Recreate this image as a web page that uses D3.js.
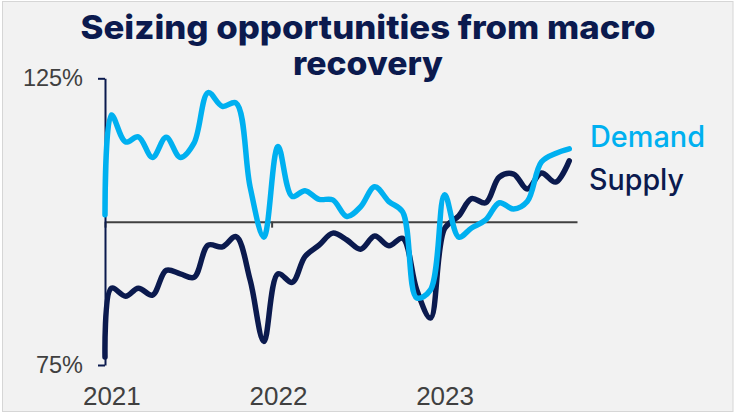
<!DOCTYPE html>
<html>
<head>
<meta charset="utf-8">
<script src="https://cdn.jsdelivr.net/npm/d3@7"></script>
<style>
  html, body { margin: 0; padding: 0; background: #ffffff; }
  svg { display: block; }
</style>
</head>
<body>
<svg id="chart" width="735" height="415"></svg>
<script>
// Observation dates: opening point, then mid-month readings Jan 2021 – Oct 2023
const dates = [
  "2021-01-01",
  "2021-01-15","2021-02-15","2021-03-15","2021-04-15","2021-05-15","2021-06-15",
  "2021-07-15","2021-08-15","2021-09-15","2021-10-15","2021-11-15","2021-12-15",
  "2022-01-15","2022-02-15","2022-03-15","2022-04-15","2022-05-15","2022-06-15",
  "2022-07-15","2022-08-15","2022-09-15","2022-10-15","2022-11-15","2022-12-15",
  "2023-01-15","2023-02-15","2023-03-15","2023-04-15","2023-05-15","2023-06-15",
  "2023-07-15","2023-08-15","2023-09-15","2023-10-15"
];

// Index levels (%)
const demand = [
  101.2,
  118.6, 113.9, 114.8, 111.2, 114.7, 111.2,
  113.7, 122.5, 120.1, 120.7, 106.0, 97.3,
  113.1, 104.4, 105.4, 103.9, 103.8, 100.9,
  102.6, 106.1, 103.5, 101.7, 86.7, 88.1,
  104.7, 97.3, 98.9, 100.3, 103.3, 102.2,
  103.5, 110.4, 111.9, 112.7
];

const supply = [
  76.4,
  88.4, 87.0, 88.4, 87.2, 91.5, 90.9,
  90.3, 95.9, 95.6, 97.4, 89.8, 79.1,
  90.9, 89.4, 93.9, 95.9, 98.0, 96.8,
  95.2, 97.5, 95.8, 97.1, 88.1, 83.2,
  98.8, 101.0, 104.0, 103.3, 107.8, 108.3,
  105.7, 108.5, 106.9, 110.6
];

const yTicks = [75, 125];
const yearTicks = ["2021-01-01", "2022-01-01", "2023-01-01"];
const yearLabels = ["2021", "2022", "2023"];
const yearLabelDates = ["2021-01-16", "2022-01-16", "2023-01-16"];

const titleLines = ["Seizing opportunities from macro", "recovery"];
const seriesNames = ["Demand", "Supply"];

// Colours
const NAVY = "#0b1a4e";
const CYAN = "#00b0f0";
const GREY = "#404040";

const parse = d3.timeParse("%Y-%m-%d");
const svg = d3.select("#chart");

// Panel background with thin frame
svg.append("rect")
  .attr("x", 2.5).attr("y", 1.5)
  .attr("width", 730.5).attr("height", 410)
  .attr("fill", "#f2f2f2")
  .attr("stroke", "#d6d6d6")
  .attr("stroke-width", 1);

const x = d3.scaleTime()
  .domain([parse("2021-01-01"), parse("2023-11-01")])
  .range([105, 577]);

const y = d3.scaleLinear()
  .domain([75, 125])
  .range([365, 78.3]);

// Title
const title = svg.append("g")
  .attr("fill", NAVY)
  .attr("font-family", "Inter, 'Liberation Sans', Arial, sans-serif")
  .attr("font-weight", 800)
  .attr("font-size", 33)
  .attr("text-anchor", "middle");
title.append("text").attr("x", 368).attr("y", 38.5)
  .attr("textLength", 575).attr("lengthAdjust", "spacingAndGlyphs")
  .text(titleLines[0]);
title.append("text").attr("x", 368).attr("y", 75)
  .attr("textLength", 150).attr("lengthAdjust", "spacingAndGlyphs")
  .text(titleLines[1]);

// Baseline (100%) with year ticks
const xAxis = d3.axisBottom(x)
  .tickValues(yearTicks.map(parse))
  .tickSize(6)
  .tickSizeOuter(0)
  .tickFormat("");
const gx = svg.append("g")
  .attr("transform", `translate(0,${y(100)})`)
  .call(xAxis);
gx.select(".domain").attr("stroke", GREY).attr("stroke-width", 2);
gx.selectAll(".tick line").attr("stroke", GREY).attr("stroke-width", 2);

// Vertical axis
const yAxis = d3.axisLeft(y)
  .tickValues(yTicks)
  .tickSize(7)
  .tickSizeOuter(0)
  .tickPadding(15)
  .tickFormat(d => d + "%");
const gy = svg.append("g")
  .attr("transform", `translate(${x.range()[0]},0)`)
  .call(yAxis);
gy.select(".domain").attr("stroke", NAVY).attr("stroke-width", 2);
gy.selectAll(".tick line").attr("stroke", NAVY).attr("stroke-width", 2);
gy.selectAll(".tick text")
  .attr("fill", GREY)
  .attr("font-family", "'Liberation Sans', Arial, sans-serif")
  .attr("font-size", 23.5);

// Year labels along the bottom
svg.append("g")
  .selectAll("text")
  .data(yearLabels)
  .join("text")
  .attr("x", (d, i) => x(parse(yearLabelDates[i])))
  .attr("y", 405)
  .attr("text-anchor", "middle")
  .attr("fill", GREY)
  .attr("font-family", "'Liberation Sans', Arial, sans-serif")
  .attr("font-size", 26)
  .text(d => d);

// Series lines
const line = d3.line()
  .x((d, i) => x(parse(dates[i])))
  .y(d => y(d))
  .curve(d3.curveCatmullRom);

svg.append("path")
  .datum(supply)
  .attr("d", line)
  .attr("fill", "none")
  .attr("stroke", NAVY)
  .attr("stroke-width", 5.5)
  .attr("stroke-linejoin", "round")
  .attr("stroke-linecap", "round");

svg.append("path")
  .datum(demand)
  .attr("d", line)
  .attr("fill", "none")
  .attr("stroke", CYAN)
  .attr("stroke-width", 5.5)
  .attr("stroke-linejoin", "round")
  .attr("stroke-linecap", "round");

// Series labels
const labels = svg.append("g")
  .attr("font-family", "Inter, 'Liberation Sans', Arial, sans-serif")
  .attr("font-weight", 500)
  .attr("font-size", 29.5);
labels.append("text").attr("x", 590).attr("y", 146.5)
  .attr("fill", CYAN)
  .attr("textLength", 115).attr("lengthAdjust", "spacingAndGlyphs")
  .text(seriesNames[0]);
labels.append("text").attr("x", 589).attr("y", 190)
  .attr("fill", NAVY)
  .attr("textLength", 95).attr("lengthAdjust", "spacingAndGlyphs")
  .text(seriesNames[1]);
</script>
</body>
</html>
